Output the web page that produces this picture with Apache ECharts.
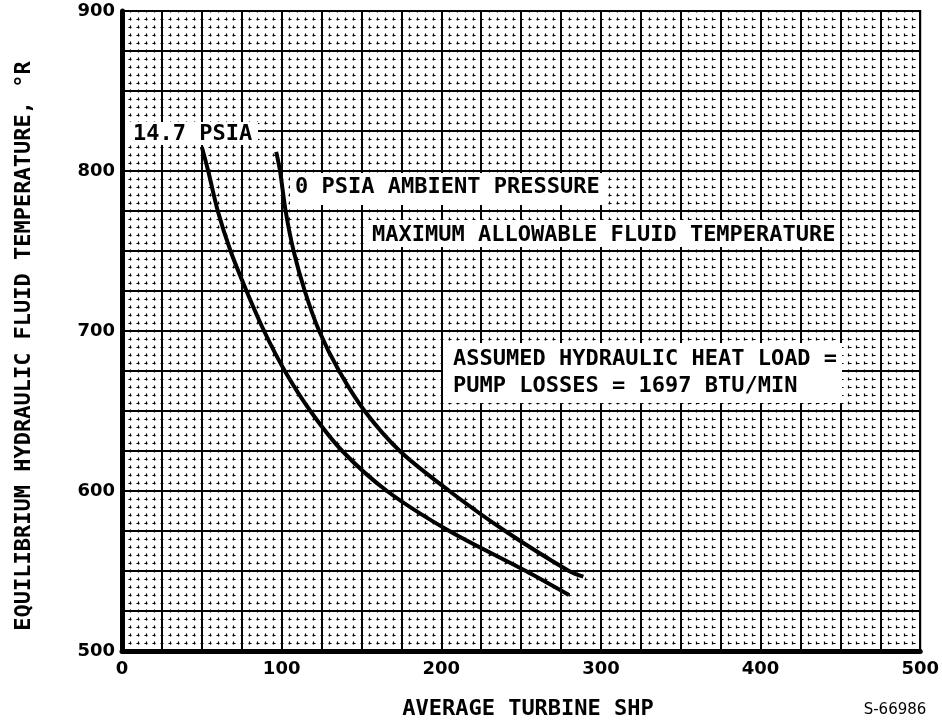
<!DOCTYPE html>
<html>
<head>
<meta charset="utf-8">
<script src="https://cdn.jsdelivr.net/npm/echarts@6/dist/echarts.min.js"></script>
<style>
html,body{margin:0;padding:0;background:#fff;}
#chart{width:942px;height:722px;}
</style>
</head>
<body>
<div id="chart"></div>
<script>
// ---- data ----
const xTickLabels = [0, 100, 200, 300, 400, 500];
const yTickLabels = [500, 600, 700, 800, 900];

// 14.7 PSIA curve
const shp147  = [50, 54, 60, 68, 78, 89, 102, 118, 138, 166, 205, 253, 280];
const temp147 = [815, 800, 775, 750, 725, 700, 675, 650, 625, 600, 575, 550, 535];

// 0 PSIA ambient pressure curve
const shp0  = [96.6, 99, 102.5, 107.5, 114.5, 123.5, 136, 152, 174, 205, 240, 280, 289];
const temp0 = [812, 800, 775, 750, 725, 700, 675, 650, 625, 600, 575, 550, 546.5];

const curveNames = ['14.7 PSIA', '0 PSIA AMBIENT PRESSURE'];
const noteMaxTemp = 'MAXIMUM ALLOWABLE FLUID TEMPERATURE';
const noteLoad = ['ASSUMED HYDRAULIC HEAT LOAD =', 'PUMP LOSSES = 1697 BTU/MIN'];
const xTitle = 'AVERAGE TURBINE SHP';
const yTitle = 'EQUILIBRIUM HYDRAULIC FLUID TEMPERATURE, \u00B0R';
const figId = 'S-66986';

// ---- chart ----
const LETTER = 'bold 22px "DejaVu Sans Mono"';
const pair = (xs, ys) => xs.map((v, i) => [v, ys[i]]);
const chart = echarts.init(document.getElementById('chart'), null, {renderer: 'canvas'});

const majorLine = {show: true, lineStyle: {color: '#000', width: 2}};
const minorLine = {show: true, lineStyle: {color: '#000', width: 1.2, type: [3, 5], dashOffset: 1.5}};
const tickFont = {color: '#000', fontFamily: 'DejaVu Sans', fontWeight: 'bold', fontSize: 18};

function box(x, y, w, h) {
  return {type: 'rect', z: 100, shape: {x: x, y: y, width: w, height: h}, style: {fill: '#fff'}};
}
function label(text, x, y, font, align) {
  return {type: 'text', z: 101, x: x, y: y,
    style: {text: text, font: font || LETTER, fill: '#000',
      align: align || 'left', verticalAlign: 'middle',
      textAlign: align || 'left', textVerticalAlign: 'middle'}};
}

chart.setOption({
  animation: false,
  backgroundColor: '#fff',
  grid: {left: 122, top: 11, width: 800, height: 640, show: true, borderColor: '#000', borderWidth: 2},
  xAxis: {
    type: 'value', min: 0, max: 500, interval: 25,
    axisLine: {show: true, onZero: false, lineStyle: {color: '#000', width: 5}},
    axisTick: {show: false},
    minorTick: {show: false, splitNumber: 5},
    splitLine: majorLine,
    minorSplitLine: minorLine,
    axisLabel: Object.assign({margin: 9,
      formatter: v => xTickLabels.indexOf(v) >= 0 ? String(v) : ''}, tickFont)
  },
  yAxis: {
    type: 'value', min: 500, max: 900, interval: 25,
    axisLine: {show: true, onZero: false, lineStyle: {color: '#000', width: 5}},
    axisTick: {show: false},
    minorTick: {show: false, splitNumber: 5},
    splitLine: majorLine,
    minorSplitLine: minorLine,
    axisLabel: Object.assign({margin: 7,
      formatter: v => yTickLabels.indexOf(v) >= 0 ? String(v) : ''}, tickFont)
  },
  series: [
    {name: curveNames[0], type: 'line', data: pair(shp147, temp147), showSymbol: false,
     smooth: 0.3, lineStyle: {color: '#000', width: 4}, z: 5},
    {name: curveNames[1], type: 'line', data: pair(shp0, temp0), showSymbol: false,
     smooth: 0.3, lineStyle: {color: '#000', width: 4}, z: 5}
  ],
  graphic: [
    box(125, 122, 133, 23), label(curveNames[0], 133, 134),
    box(290, 173, 315, 32), label(curveNames[1], 295, 187),
    box(365, 220, 473, 27), label(noteMaxTemp, 372, 235),
    box(443, 343, 399, 60), label(noteLoad[0], 453, 359), label(noteLoad[1], 453, 386),
    {type: 'text', z: 101, x: 24, y: 346, rotation: Math.PI / 2,
     style: {text: yTitle, font: LETTER, fill: '#000', align: 'center', verticalAlign: 'middle',
       textAlign: 'center', textVerticalAlign: 'middle'}},
    label(xTitle, 528, 709, LETTER, 'center'),
    label(figId, 895, 710, '15px "DejaVu Sans"', 'center')
  ]
});
</script>
</body>
</html>
